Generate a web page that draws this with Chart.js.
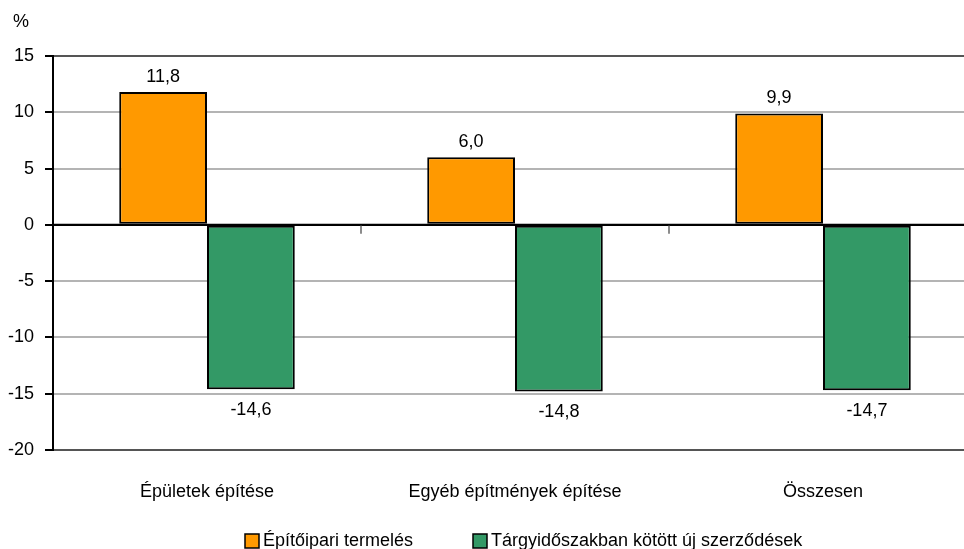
<!DOCTYPE html>
<html>
<head>
<meta charset="utf-8">
<script src="https://cdn.jsdelivr.net/npm/chart.js@4"></script>
<style>
  html, body { margin: 0; padding: 0; background: #fff; overflow: hidden; }
  #wrap { width: 964px; height: 549px; overflow: hidden; }
</style>
</head>
<body>
<div id="wrap"><canvas id="chart" width="980" height="549"></canvas></div>
<script>
// adatok
const categories = ["Épületek építése", "Egyéb építmények építése", "Összesen"];
const seriesNames = ["Építőipari termelés", "Tárgyidőszakban kötött új szerződések"];
const termeles = [11.8, 6.0, 9.9];
const szerzodesek = [-14.6, -14.8, -14.7];
const yTicks = [15, 10, 5, 0, -5, -10, -15, -20];

const FONT = "'Liberation Sans', Arial, sans-serif";
const colors = ["#FF9900", "#339966"];

// vesszős tizedes
const fmt = v => v.toFixed(1).replace(".", ",");

// címkék, legenda, nulla-vonal jelölők
const extras = {
  id: "extras",
  afterDatasetsDraw(chart) {
    const { ctx, chartArea, scales } = chart;
    const x = scales.x, y = scales.y;
    const zero = y.getPixelForValue(0);

    // kategória elválasztók a 0 vonalon
    ctx.save();
    ctx.strokeStyle = "#8c8c8c";
    ctx.lineWidth = 2;
    for (let i = 1; i < categories.length; i++) {
      const px = Math.round((x.getPixelForValue(i - 1) + x.getPixelForValue(i)) / 2);
      ctx.beginPath();
      ctx.moveTo(px, zero);
      ctx.lineTo(px, zero + 9);
      ctx.stroke();
    }
    // 0 vonal
    ctx.strokeStyle = "#000";
    ctx.lineWidth = 2;
    ctx.beginPath();
    ctx.moveTo(chartArea.left, zero);
    ctx.lineTo(chartArea.right, zero);
    ctx.stroke();

    // adatfeliratok
    ctx.fillStyle = "#000";
    ctx.font = "18px " + FONT;
    ctx.textAlign = "center";
    chart.data.datasets.forEach((ds, di) => {
      chart.getDatasetMeta(di).data.forEach((bar, i) => {
        const v = ds.data[i];
        if (v >= 0) {
          ctx.textBaseline = "bottom";
          ctx.fillText(fmt(v), bar.x, bar.y - 6);
        } else {
          ctx.textBaseline = "top";
          ctx.fillText(fmt(v), bar.x, bar.y + 12);
        }
      });
    });

    // % felirat
    ctx.textAlign = "left";
    ctx.textBaseline = "middle";
    ctx.fillText("%", 13, 22);

    // legenda
    const legendX = [245, 473];
    const legendY = 541;
    seriesNames.forEach((name, i) => {
      ctx.fillStyle = colors[i];
      ctx.fillRect(legendX[i], legendY - 7, 14, 14);
      ctx.strokeStyle = "#000";
      ctx.lineWidth = 1.5;
      ctx.strokeRect(legendX[i], legendY - 7, 14, 14);
      ctx.fillStyle = "#000";
      ctx.fillText(name, legendX[i] + 18, legendY);
    });
    ctx.restore();
  }
};

new Chart(document.getElementById("chart"), {
  type: "bar",
  data: {
    labels: categories,
    datasets: [
      { label: seriesNames[0], data: termeles, backgroundColor: colors[0], borderColor: "#000", borderWidth: 2, borderSkipped: false },
      { label: seriesNames[1], data: szerzodesek, backgroundColor: colors[1], borderColor: "#000", borderWidth: 2, borderSkipped: false }
    ]
  },
  options: {
    responsive: false,
    animation: false,
    devicePixelRatio: 1,
    layout: { padding: { top: 56, right: 3, bottom: 0, left: 0 } },
    categoryPercentage: 0.57,
    barPercentage: 1.0,
    plugins: {
      legend: { display: false },
      tooltip: { enabled: false }
    },
    scales: {
      x: {
        grid: { display: false, drawTicks: false },
        border: { display: false },
        ticks: { color: "#000", font: { family: FONT, size: 18 }, padding: 31, maxRotation: 0 },
        afterFit(scale) { scale.height = 99; }
      },
      y: {
        min: -20,
        max: 15,
        afterBuildTicks(scale) { scale.ticks = yTicks.map(v => ({ value: v })); },
        grid: {
          color: ctx => {
            const v = ctx.tick && ctx.tick.value;
            if (v === 15 || v === -20) return "#555";
            if (v === 0) return "#000";
            return "#b4b4b4";
          },
          lineWidth: 2,
          tickColor: "#000",
          tickLength: 8,
          drawTicks: true
        },
        border: { display: true, color: "#000", width: 2 },
        ticks: { color: "#000", font: { family: FONT, size: 18 }, padding: 11 },
        afterFit(scale) { scale.width = 53; }
      }
    }
  },
  plugins: [extras]
});
</script>
</body>
</html>
